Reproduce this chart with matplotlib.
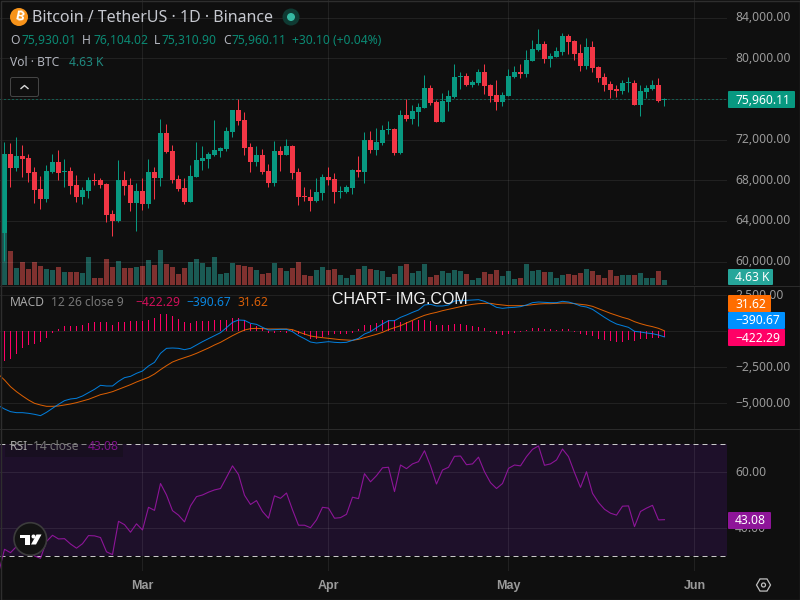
import numpy as np
import pandas as pd
import matplotlib
matplotlib.use("Agg")
import matplotlib.pyplot as plt
from matplotlib.patches import Circle, FancyBboxPatch, Polygon, Rectangle
from matplotlib.transforms import ScaledTranslation

#### Daily BTC/USDT candles
start_date = "2026-02-06"

opens = [
    62810, 70583, 69206, 70387, 70190, 68812, 67139, 66155, 68812, 69796,
    68812, 68911, 67533, 66352, 66943, 68025, 68025, 67631, 64679, 63990,
    68025, 67533, 65762, 66943, 65664, 68812, 68222, 72650, 70879, 68123,
    67238, 65860, 68320, 69895, 70092, 70485, 70879, 71076, 72748, 74913,
    73929, 71272, 69796, 70485, 68911, 67730, 70879, 70485, 71371, 68812,
    66451, 66352, 65959, 66746, 68320, 68123, 66844, 66844, 67238, 69009,
    68812, 71961, 70977, 71666, 72945, 73043, 70682, 74421, 74027, 74716,
    75110, 77078, 75700, 73732, 75700, 76192, 78160, 78259, 77373, 77570,
    78652, 77373, 76389, 75700, 76291, 78160, 78652, 78455, 79735, 80817,
    81407, 79931, 80128, 80620, 82195, 81703, 80522, 79243, 81112, 79144,
    78160, 77471, 76979, 76783, 77570, 77570, 75405, 76684, 76979, 77373,
    75930.01,
]
highs = [
    71764, 71666, 72256, 71469, 70583, 69304, 68419, 69501, 70583, 70977,
    70092, 69304, 68517, 67336, 68320, 68714, 68222, 67730, 65073, 69993,
    68911, 68222, 67730, 68222, 70092, 69304, 74027, 73535, 71469, 68517,
    68222, 69501, 71764, 71371, 70780, 73929, 71272, 73240, 74913, 75963,
    74716, 71666, 71371, 71076, 69599, 71863, 71371, 72059, 71469, 69206,
    67336, 67139, 68222, 68615, 69304, 68714, 67435, 67533, 69107, 70387,
    72748, 72847, 73142, 73437, 73831, 73142, 74913, 75995, 75405, 75602,
    78357, 77373, 75897, 76586, 76881, 79439, 78652, 78554, 77865, 78947,
    79439, 77471, 77865, 76684, 78947, 79242, 79439, 80817, 81801, 82883,
    81703, 80522, 81112, 82490, 82391, 81801, 81407, 81998, 81703, 79243,
    78554, 77767, 77373, 77865, 78160, 77865, 77373, 77373, 77865, 78062,
    76104.02,
]
lows = [
    60055, 67336, 68911, 68320, 67828, 65762, 65171, 65860, 68714, 68025,
    67336, 66648, 65860, 65664, 66254, 67533, 67238, 63892, 62515, 63892,
    66549, 64975, 63007, 65073, 65270, 66155, 67435, 70682, 67730, 66943,
    65664, 65860, 68320, 69009, 69206, 70387, 70288, 70879, 72256, 73437,
    70485, 68812, 69403, 68615, 67336, 67435, 68911, 70485, 68123, 65565,
    65959, 64975, 65860, 66057, 67533, 65762, 66254, 66746, 66647, 68320,
    67730, 70682, 70485, 71469, 72551, 70485, 70583, 73831, 73535, 73339,
    75110, 75405, 73732, 73732, 74815, 76094, 76979, 77275, 77176, 77373,
    76487, 75700, 74913, 75307, 76291, 78062, 78062, 78160, 79735, 80719,
    79538, 79144, 80128, 80325, 80423, 79833, 78751, 78947, 78652, 77668,
    76783, 76094, 76192, 76487, 76684, 75405, 74323, 76094, 76881, 75700,
    75310.90,
]
closes = [
    70583, 69206, 70387, 70092, 68714, 67041, 66155, 68911, 69796, 68714,
    68911, 67435, 66352, 67041, 68025, 67927, 67533, 64581, 63990, 68025,
    67435, 65762, 66943, 65664, 68812, 68222, 72650, 70780, 68025, 67139,
    65860, 68419, 69993, 70190, 70583, 70977, 71174, 72847, 74913, 73831,
    71174, 69796, 70485, 68812, 67730, 70879, 70485, 71371, 68714, 66352,
    66352, 65959, 66844, 68320, 68025, 66844, 66943, 67336, 69009, 68812,
    71961, 70977, 71764, 72945, 73043, 70682, 74421, 74027, 74815, 75208,
    77078, 75602, 73732, 75799, 76291, 78160, 78259, 77373, 77668, 78652,
    77275, 76291, 75700, 76389, 78259, 78652, 78455, 79833, 80915, 81407,
    79931, 80227, 80719, 82195, 81604, 80423, 79243, 81112, 79046, 78062,
    77373, 76881, 76783, 77570, 77668, 75405, 76783, 77078, 77373, 75799,
    75960.11,
]
# volume in thousands of BTC
volumes = [
    48.1, 31.5, 15.7, 21.3, 14.8, 21.3, 17.6, 14.8, 13.9, 16.7,
    12.0, 12.0, 12.0, 11.1, 25.9, 6.5, 6.5, 24.1, 16.7, 22.2,
    15.7, 15.7, 16.7, 17.6, 23.2, 18.5, 32.4, 19.4, 16.7, 10.2,
    15.7, 21.3, 24.1, 20.4, 16.7, 25.9, 10.2, 11.1, 20.4, 18.5,
    17.6, 16.7, 13.9, 10.2, 11.1, 20.4, 15.7, 13.0, 15.7, 21.3,
    9.3, 8.3, 13.9, 16.7, 13.9, 14.8, 9.3, 6.5, 9.3, 14.8,
    17.6, 14.8, 13.9, 13.0, 7.4, 10.2, 17.6, 19.4, 11.1, 13.0,
    19.4, 7.4, 9.3, 13.0, 11.1, 13.9, 13.0, 10.2, 4.6, 6.5,
    12.0, 10.2, 13.9, 8.3, 13.0, 5.6, 6.5, 19.4, 13.0, 13.9,
    12.0, 12.0, 6.5, 9.3, 10.2, 9.3, 11.1, 14.8, 13.0, 9.3,
    6.5, 13.9, 8.3, 9.3, 9.3, 9.3, 11.1, 6.5, 6.5, 13.0, 4.63,
]

#### MACD (line series carry one extra value for the day before the first candle)
macd_hist = [
    -2059, -1920, -1596, -1133, -948, -902, -763, -439, -93, 162,
    347, 347, 393, 439, 578, 671, 671, 625, 439, 671,
    671, 717, 717, 717, 810, 902, 1203, 1203, 1087, 856,
    625, 578, 717, 717, 717, 810, 810, 810, 948, 948,
    810, 532, 393, 208, -93, -93, -46, -93, 93, -162,
    -254, -532, -532, -370, -254, -208, -208, -185, -139, 162,
    439, 439, 555, 763, 763, 763, 625, 671, 717, 763,
    810, 717, 439, 463, 463, 486, 509, 439, 393, 324,
    231, -46, -185, -231, -185, -116, -69, 93, 208, 231,
    185, 162, 116, 185, 185, -23, -185, -254, -324, -509,
    -601, -671, -740, -717, -601, -648, -532, -509, -486, -439,
    -422.29,
]
macd_line = [
    -5160, -5391, -5576, -5646, -5646, -5692, -5761, -5854, -5623, -5345, -5068,
    -4813, -4697, -4651, -4489, -4258, -4027, -3749, -3795, -3795, -3472,
    -3217, -3125, -2916, -2755, -2408, -2153, -1529, -1182, -1159, -1182,
    -1274, -1182, -950, -719, -511, -303, -95, 252, 622, 784,
    761, 553, 484, 275, 90, 114, 137, 137, -25, -303,
    -511, -742, -812, -765, -719, -765, -788, -765, -627, -488,
    -187, -25, 252, 507, 738, 738, 969, 1131, 1316, 1478,
    1825, 1871, 1756, 1756, 1825, 2103, 2149, 2149, 2172, 2195,
    2080, 1895, 1663, 1594, 1640, 1663, 1710, 1825, 1987, 2033,
    2010, 1987, 1987, 2080, 2033, 1918, 1756, 1686, 1525, 1247,
    969, 715, 507, 391, 275, -2, -48, -118, -164, -257,
    -390.67,
]
signal_line = [
    -2986, -3379, -3842, -4189, -4489, -4767, -4998, -5114, -5206, -5206, -5183,
    -5114, -5044, -4952, -4836, -4720, -4559, -4397, -4304, -4189, -4027,
    -3865, -3703, -3518, -3356, -3194, -2963, -2662, -2384, -2130, -1968,
    -1829, -1691, -1529, -1344, -1159, -950, -765, -534, -303, -95,
    90, 183, 206, 183, 160, 160, 160, 160, 114, -48,
    -187, -326, -395, -442, -488, -534, -580, -603, -627, -557,
    -442, -326, -210, -71, 114, 252, 391, 576, 761, 946,
    1108, 1224, 1316, 1432, 1525, 1617, 1710, 1802, 1871, 1918,
    1941, 1941, 1871, 1825, 1779, 1779, 1779, 1802, 1848, 1895,
    1918, 1918, 1941, 1964, 1964, 1918, 1871, 1825, 1733, 1571,
    1409, 1247, 1108, 969, 855, 669, 530, 414, 322, 206,
    31.62,
]

#### RSI 14
rsi_line = [
    24.0, 32.5, 31.3, 33.5, 34.1, 32.9, 30.1, 29.3, 35.3, 37.5, 36.2,
    36.3, 34.4, 32.9, 34.5, 37.4, 37.3, 36.7, 31.6, 30.6, 42.5,
    41.3, 38.6, 41.6, 39.4, 47.5, 46.4, 56.0, 51.9, 46.3, 44.7,
    42.3, 48.0, 51.3, 51.9, 52.9, 53.7, 54.2, 58.2, 62.3, 59.2,
    51.8, 48.5, 49.9, 46.0, 43.6, 51.6, 50.7, 52.6, 46.6, 41.1,
    41.1, 40.2, 43.0, 47.5, 47.2, 43.6, 43.8, 45.0, 51.1, 50.6,
    59.5, 56.6, 58.8, 61.6, 61.8, 53.1, 62.6, 61.3, 63.0, 63.8,
    67.7, 62.3, 55.8, 60.8, 61.8, 65.7, 65.8, 62.7, 63.0, 65.4,
    60.2, 56.3, 54.2, 56.0, 61.4, 62.6, 62.3, 65.6, 68.2, 69.4,
    62.5, 63.0, 64.4, 68.3, 65.6, 59.9, 54.6, 60.2, 52.5, 49.2,
    46.8, 45.4, 44.7, 47.9, 48.0, 40.6, 46.0, 47.2, 48.2, 43.0,
    43.08,
]

price_ticks = [60000, 64000, 68000, 72000, 76000, 80000, 84000]
macd_ticks = [-5000, -2500, 0, 2500]
rsi_ticks = [40, 60]
month_names = ["Mar", "Apr", "May", "Jun"]
month_starts = ["2026-03-01", "2026-04-01", "2026-05-01", "2026-06-01"]

BG = "#0f0f0f"
GREEN = "#089981"
RED = "#f23645"
VOL_GREEN = "#26a69a"
VOL_RED = "#ef5350"
ORANGE = "#ff6d00"
BLUE = "#0091ff"
PINK = "#ff0066"
PURPLE = "#8e1599"
TEXT = "#b2b5be"
AXIS_TEXT = "#9a9a9a"
LINE_PX = 0.72  # one pixel at dpi 100

plt.rcParams["font.family"] = ["Noto Sans", "DejaVu Sans"]
plt.rcParams["font.size"] = 8.7

W, H, RIGHT = 800, 600, 727

fig = plt.figure(figsize=(8, 6), dpi=100, facecolor=BG)

opens, highs, lows, closes = map(np.array, (opens, highs, lows, closes))
days = np.arange(len(closes))
line_days = np.arange(-1, len(closes))
dates = pd.date_range(start_date, periods=len(closes))
month_pos = [(pd.Timestamp(d) - dates[0]).days for d in month_starts]
rising = closes >= opens


def money(v, pos=None):
    return f"{v:,.2f}".replace("-", "\u2212")


def axis_label(v, pos=None):
    # these two levels always sit behind the last-value tags
    return "" if v in (0, 76000) else money(v)


def make_pane(top, bottom, ylim, ticks):
    ax = fig.add_axes([0, 1 - bottom / H, RIGHT / W, (bottom - top) / H])
    ax.set_facecolor("none")
    ax.set_xlim(-0.75, (RIGHT - 4.5) / 6)
    ax.set_ylim(*ylim)
    ax.set_xticks(month_pos)
    ax.set_xticklabels([])
    ax.set_yticks(ticks)
    ax.yaxis.tick_right()
    ax.yaxis.set_major_formatter(axis_label)
    ax.tick_params(length=0, pad=5.8, labelcolor=AXIS_TEXT)
    ax.grid(True, color="white", alpha=0.08, linewidth=LINE_PX)
    ax.set_axisbelow(True)
    for s in ax.spines.values():
        s.set_visible(False)
    # lift the axis labels slightly above their grid lines
    lift = ScaledTranslation(0, 1.5 / 100, fig.dpi_scale_trans)
    for lbl in ax.get_yticklabels():
        lbl.set_transform(lbl.get_transform() + lift)
    return ax


# Volume sits under the candles in the same area
vol_ax = fig.add_axes([0, 1 - 285 / H, RIGHT / W, 285 / H])
vol_ax.set_xlim(-0.75, (RIGHT - 4.5) / 6)
vol_ax.set_ylim(0, 263.9)
vol_ax.axis("off")
vol_colors = [VOL_GREEN if r else VOL_RED for r in rising]
vol_ax.bar(days, volumes, width=5 / 6, color=vol_colors, alpha=0.5, linewidth=0)

price_ax = make_pane(0, 285, (57693, 85737), price_ticks)
price_ax.patch.set_alpha(0)

candle_colors = np.where(rising, GREEN, RED)
price_ax.vlines(days, lows, highs, colors=candle_colors, linewidth=LINE_PX, zorder=2)
body_low = np.minimum(opens, closes)
body_size = np.maximum(np.abs(closes - opens), 98.4)
price_ax.bar(days, body_size, bottom=body_low, width=5 / 6, color=candle_colors,
             linewidth=0, zorder=3)
price_ax.axhline(closes[-1], color=GREEN, linewidth=LINE_PX, linestyle=(0, (1, 3)), zorder=1)

macd_ax = make_pane(286, 429, (-6780, 3144), macd_ticks)
macd_ax.bar(days, macd_hist, width=1 / 6, color=PINK, linewidth=0, zorder=2)
macd_ax.plot(line_days, signal_line, color=ORANGE, linewidth=LINE_PX, alpha=0.85, zorder=3)
macd_ax.plot(line_days, macd_line, color=BLUE, linewidth=LINE_PX, alpha=0.85, zorder=4)

rsi_ax = make_pane(429, 571, (24.75, 75.46), rsi_ticks)
rsi_ax.axhspan(30, 70, color="#1e102a", linewidth=0, zorder=0)
rsi_ax.set_xticklabels(month_names, fontweight="bold", color=AXIS_TEXT, fontsize=9,
                       family=["Liberation Sans", "DejaVu Sans"])
rsi_ax.tick_params(axis="x", pad=6.5, labelcolor=AXIS_TEXT)
for level in (30, 70):
    rsi_ax.axhline(level, color="#c9c9c9", linewidth=LINE_PX, linestyle=(0, (5, 4)), zorder=2)
rsi_ax.plot(line_days, rsi_line, color=PURPLE, linewidth=LINE_PX * 1.1, zorder=3)

# Everything else is placed in pixel coordinates on a full-size overlay
ov = fig.add_axes([0, 0, 1, 1], zorder=10)
ov.set_xlim(0, W)
ov.set_ylim(H, 0)
ov.axis("off")
ov.patch.set_alpha(0)

ov.add_patch(Rectangle((0.5, 0.5), W - 1, H - 1, fill=False, edgecolor="#2e2e2e", linewidth=1))
for sep in (285.5, 428.5):
    ov.plot([0, W], [sep, sep], color="#2b2b2b", linewidth=LINE_PX)


def tag(x0, x1, y0, y1, color, label):
    ov.add_patch(FancyBboxPatch((x0 + 1, y0 + 1), x1 - x0 - 2, y1 - y0 - 2,
                                boxstyle="round,pad=1,rounding_size=1",
                                facecolor=color, edgecolor="none"))
    ov.text(735, (y0 + y1) / 2 + 0.5, label, color="white", ha="left", va="center")


def label(x, y, s, color=TEXT, **kw):
    ov.text(x, y, s, color=color, ha="left", va="center", **kw)


tag(728, 795, 91, 108, GREEN, money(closes[-1]))
tag(728, 773, 269, 285, VOL_GREEN, "4.63 K")
tag(728, 771, 295, 312, ORANGE, money(signal_line[-1]))
tag(728, 785, 312, 329, BLUE, money(macd_line[-1]))
tag(728, 785, 329, 346, PINK, money(macd_hist[-1]))
tag(728, 771, 512, 529, PURPLE, money(rsi_line[-1]))

# Header
ov.add_patch(Circle((19, 17), 9, facecolor="#f7931a", edgecolor="none"))
ov.text(19, 17, "\u20bf", color="white", ha="center", va="center", fontsize=9.5,
        rotation=-12, family=["Inter", "Roboto", "Liberation Sans", "Lato", "Open Sans"],
        fontweight="bold")
label(32, 18.5, "Bitcoin / TetherUS \u00b7 1D \u00b7 Binance", color="#c6c8cf", fontsize=11.5)
ov.add_patch(Circle((291, 17), 8.5, facecolor="#0f3a33", edgecolor="none"))
ov.add_patch(Circle((291, 17), 4, facecolor="#35b8a2", edgecolor="none"))

green_dim = "#0b8a74"
for x, s, c in [(10, "O", TEXT), (21, "75,930.01", green_dim),
                (82, "H", TEXT), (93, "76,104.02", green_dim),
                (154, "L", TEXT), (162, "75,310.90", green_dim),
                (223, "C", TEXT), (232, "75,960.11", green_dim),
                (292, "+30.10 (+0.04%)", green_dim)]:
    label(x, 40.5, s, color=c)
label(10, 62.5, "Vol \u00b7 BTC")
label(69, 62.5, "4.63 K", color="#1f8a80")

ov.add_patch(FancyBboxPatch((11, 78), 27, 18, boxstyle="round,pad=0.5,rounding_size=2",
                            facecolor="none", edgecolor="#454545", linewidth=LINE_PX))
ov.plot([21, 24.5, 28], [88.5, 85.5, 88.5], color="#d8d8d8", linewidth=1.0)

# Indicator legends
label(10, 303, "MACD", color="#a8a8a8")
label(51, 303, "12 26 close 9", color="#777777")
label(135, 303, "\u2212422.29", color="#d1105a")
label(186, 303, "\u2212390.67", color="#0a86e0")
label(237, 303, "31.62", color="#d95f08")

ov.add_patch(Rectangle((5, 431), 118, 26, facecolor=BG, edgecolor="none", alpha=0.35))
label(10, 446, "RSI", color="#a8a8a8")
label(33, 446, "14 close", color="#777777")
label(88, 446, "43.08", color="#7d1488")

ov.text(332, 300, "CHART- IMG.COM", color="#f2f2f2", ha="left", va="center",
        fontsize=11.55, family=["Liberation Sans"])

# Logo badge
ov.add_patch(Circle((30.3, 539), 16.3, facecolor="#131313", edgecolor="#3c3c3c", linewidth=1.2))
ov.add_patch(Polygon([(20, 534.5), (30, 534.5), (30, 544.5), (25, 544.5), (25, 538), (20, 538)],
                     facecolor="white", edgecolor="none"))
ov.add_patch(Circle((33.5, 536.5), 2, facecolor="white", edgecolor="none"))
ov.add_patch(Polygon([(36.5, 534.5), (41.5, 534.5), (36, 544.5), (31, 544.5)],
                     facecolor="white", edgecolor="none"))

# Settings hexagon
angles = np.deg2rad(np.arange(0, 360, 60))
ov.add_patch(Polygon(np.c_[763.5 + 7 * np.cos(angles), 585 + 7 * np.sin(angles)], closed=True,
                     facecolor="none", edgecolor="#c0c0c0", linewidth=0.9))
ov.add_patch(Circle((763.5, 585), 2, facecolor="none", edgecolor="#c0c0c0", linewidth=0.9))

fig.savefig("out.png", dpi=100, facecolor=BG)
